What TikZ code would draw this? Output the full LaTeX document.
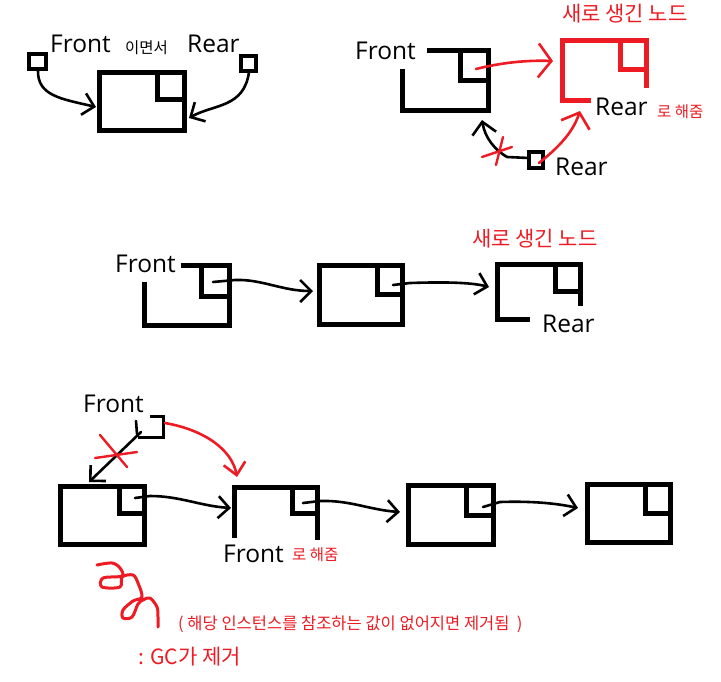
\documentclass[tikz,border=0pt]{standalone}
\usepackage{fontspec}
\setmainfont{Open Sans}
\newfontfamily\kr{Noto Sans CJK KR}
\usetikzlibrary{arrows.meta}
\definecolor{pred}{HTML}{ED1C24}
\tikzset{
  boxline/.style={line width=5pt, line join=miter, line cap=rect},
  smallsq/.style={line width=3.5pt, line join=miter, line cap=rect},
  harr/.style={line width=2.6pt, line cap=round, line join=round, -{Straight Barb[length=11pt,width=22pt]}},
  cross/.style={pred, line width=2.4pt, line cap=round},
  lbl/.style={inner sep=0pt, anchor=west, font=\fontsize{24.5}{26}\selectfont},
  krs/.style={inner sep=0pt, anchor=west, font=\kr\fontsize{15.5}{17}\selectfont},
  krm/.style={inner sep=0pt, anchor=west, text=pred, font=\kr\fontsize{21}{23}\selectfont},
}
\begin{document}
\begin{tikzpicture}[x=1pt,y=-1pt]
\useasboundingbox[fill=white] (0,0) rectangle (721,681);

% ---------------- top left ----------------
\node[lbl] (tlF) at (50,43.5) {Front};
\node[krs] (tlI) at (125,47.5) {이면서};
\node[lbl] (tlR) at (187,43.5) {Rear};
\draw[smallsq] (29,54) rectangle (46,69);
\coordinate (tlFs) at (38,70);
\draw[smallsq] (241,56) rectangle (256,71);
\coordinate (tlRs) at (249,72);
\draw[boxline] (99.5,72.5) rectangle (184.5,130.5);
\draw[boxline] (157.5,72.5) -- (157.5,99.5) -- (184.5,99.5);
\coordinate (tlBl) at (96,107);
\coordinate (tlBr) at (189,118);
\draw[harr] (tlFs) .. controls (37,96) and (62,99) .. (tlBl);
\draw[harr] (tlRs) .. controls (244,108) and (214,104) .. (tlBr);

% ---------------- top right ----------------
\node[krm] (trNew) at (562,13.5) {새로 생긴 노드};
\node[lbl] (trF) at (355,51) {Front};
\draw[boxline] (429,50) -- (488,50) -- (488,110) -- (402,110) -- (402,71);
\draw[boxline] (460,50) -- (460,80) -- (488,80);
\draw[boxline, pred] (588,100) -- (562,100) -- (562,40) -- (646,40) -- (646,85);
\draw[boxline, pred] (620,40) -- (620,69) -- (646,69);
\node[lbl] (trR) at (595,106.5) {Rear};
\node[krs, text=pred] (trRo) at (657,111.5) {로 해줌};
\draw[smallsq] (529,152) rectangle (543,168);
\node[lbl] (trR2) at (555,166.5) {Rear};
\coordinate (trIn) at (476,69);
\coordinate (trRed) at (553,61);
\draw[harr, pred, -{Straight Barb[length=13pt,width=34pt]}] (trIn) .. controls (500,63) and (525,60) .. (trRed);
\coordinate (trSqL) at (529,158);
\coordinate (trBot) at (482,120);
\draw[harr, -{Straight Barb[length=12pt,width=24pt]}] (trSqL) -- (507,157) .. controls (495,150) and (485,138) .. (trBot);
\draw[cross] (482,157) -- (512,147);
\draw[cross] (496,165) -- (503,137);
\coordinate (trSqR) at (539,163);
\coordinate (trRedB) at (580,111);
\draw[harr, pred, -{Straight Barb[length=13pt,width=30pt]}] (trSqR) .. controls (555,150) and (572,135) .. (trRedB);

% ---------------- middle ----------------
\node[lbl] (mF) at (115,264) {Front};
\draw[boxline] (183,265.5) -- (229.5,265.5) -- (229.5,325.5) -- (144.5,325.5) -- (144.5,284);
\draw[boxline] (201.5,265.5) -- (201.5,296.5) -- (229.5,296.5);
\draw[boxline] (319.5,265.5) rectangle (402.5,324.5);
\draw[boxline] (377.5,265.5) -- (377.5,294.5) -- (402.5,294.5);
\draw[boxline] (527,319.5) -- (497.5,319.5) -- (497.5,264.5) -- (580.5,264.5) -- (580.5,303);
\draw[boxline] (555.5,264.5) -- (555.5,291.5) -- (580.5,291.5);
\node[krm] (mNew) at (472,238.5) {새로 생긴 노드};
\node[lbl] (mR) at (542,324) {Rear};
\coordinate (m1) at (213,282);
\coordinate (m2) at (313,291);
\coordinate (m3) at (393,285);
\coordinate (m4) at (489,287);
\draw[harr] (m1) -- (235,280) .. controls (262,279) and (282,291) .. (m2);
\draw[harr] (m3) -- (410,283) .. controls (440,282) and (470,282) .. (m4);

% ---------------- bottom ----------------
\node[lbl] (bF) at (83,404) {Front};
\draw[smallsq] (152,416.5) -- (163.5,416.5) -- (163.5,437.5) -- (140,437.5);
\draw[line width=2.6pt, line cap=round] (136,421) -- (137,434);
\coordinate (bSq) at (141,432);
\coordinate (bB1) at (89,482);
\draw[harr, -{Straight Barb[length=11pt,width=22pt]}] (bSq) -- (bB1);
\draw[cross] (95,458) -- (137,452);
\draw[cross] (100,435) -- (127,467);
\coordinate (bSqR) at (165,423);
\coordinate (bB2t) at (237,477);
\draw[harr, pred, -{Straight Barb[length=12pt,width=22pt]}] (bSqR) .. controls (205,430) and (232,450) .. (bB2t);
\draw[boxline] (60.5,486.5) rectangle (144.5,544.5);
\draw[boxline] (119.5,486.5) -- (119.5,513.5) -- (144.5,513.5);
\draw[boxline] (234.5,535) -- (234.5,487.5) -- (317.5,487.5) -- (317.5,537);
\draw[boxline] (292.5,487.5) -- (292.5,513.5) -- (317.5,513.5);
\draw[boxline] (408.5,485.5) rectangle (493.5,544.5);
\draw[boxline] (466.5,485.5) -- (466.5,515.5) -- (493.5,515.5);
\draw[boxline] (587.5,484.5) rectangle (670.5,542.5);
\draw[boxline] (645.5,484.5) -- (645.5,513.5) -- (670.5,513.5);
\node[lbl] (bF2) at (223,553.5) {Front};
\node[krs, text=pred] (bRo) at (292,555) {로 해줌};
\coordinate (b1) at (135,498);
\coordinate (b2) at (231,508);
\coordinate (b3) at (303,503);
\coordinate (b4) at (400,512);
\coordinate (b5) at (483,507);
\coordinate (b6) at (578,508);
\draw[harr] (b1) -- (150,496) .. controls (180,496) and (200,506) .. (b2);
\draw[harr] (b3) -- (320,501) .. controls (350,500) and (370,510) .. (b4);
\draw[harr] (b5) -- (500,502) .. controls (530,501) and (555,503) .. (b6);

% squiggle
\draw[pred, line width=3pt, line cap=round, line join=round] plot[smooth, tension=0.55] coordinates {
 (97,565) (112,563) (120,568) (122,576) (103,578) (102,587) (120,587) (122,577)
 (133,575) (138,583) (142,597) (133,601) (123,610) (123,618) (132,617) (138,604)
 (143,600) (150,598) (157,607) (158,617) (158,627)};
\node[krs, text=pred, font=\kr\fontsize{16.5}{18}\selectfont] (bNote) at (178,624.5) {( 해당 인스턴스를 참조하는 값이 없어지면 제거됨~ )};
\node[krm] (bGC) at (138,656.5) {: GC가 제거};
\end{tikzpicture}
\end{document}
